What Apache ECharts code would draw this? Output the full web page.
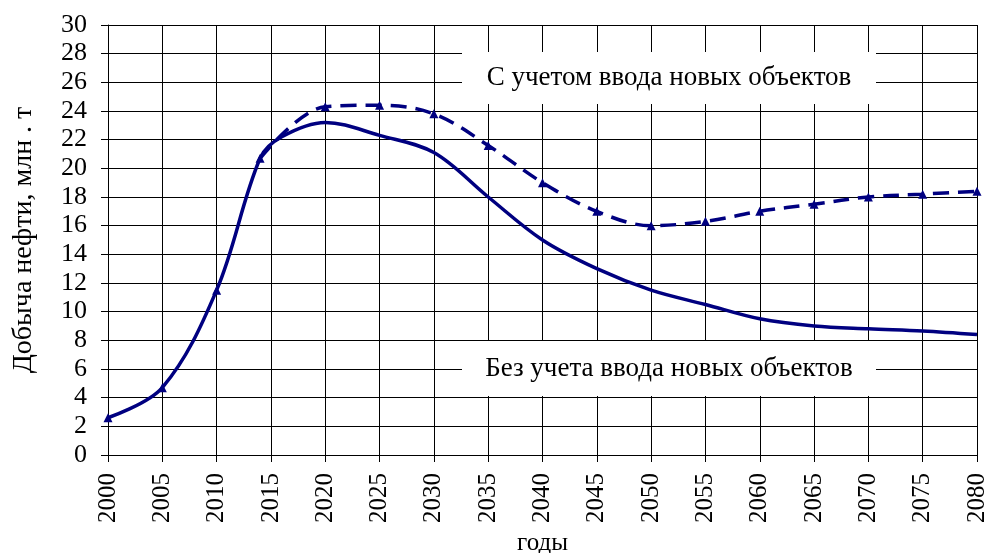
<!DOCTYPE html>
<html>
<head>
<meta charset="utf-8">
<script src="https://cdn.jsdelivr.net/npm/echarts@6/dist/echarts.min.js"></script>
<style>
  html, body { margin: 0; padding: 0; background: #fff; }
  #chart { width: 984px; height: 553px; }
</style>
</head>
<body>
<div id="chart"></div>
<script>
// годы и добыча (млн т)
const yearsNew = [2014, 2020, 2025, 2030, 2035, 2040, 2045, 2050, 2055, 2060, 2065, 2070, 2075, 2080];
const withNew = [20.7, 24.3, 24.4, 23.8, 21.6, 19.0, 17.0, 16.0, 16.3, 17.0, 17.5, 18.0, 18.2, 18.4];

const yearsBase = [2000, 2005, 2010, 2014, 2016, 2020, 2025, 2030, 2035, 2040, 2045, 2050, 2055, 2060, 2065, 2070, 2075, 2080];
const withoutNew = [2.6, 4.7, 11.5, 20.7, 22.2, 23.2, 22.3, 21.1, 18.0, 15.0, 13.0, 11.5, 10.5, 9.5, 9.0, 8.8, 8.65, 8.4];
// общие точки (до ввода новых объектов), отмеченные треугольниками
const markedYears = [2000, 2005, 2010];

const labelNew = 'С учетом ввода новых объектов';
const labelBase = 'Без учета ввода новых объектов';

const font = 'Liberation Serif';
const navy = '#000080';

function pairs(xs, ys) {
  return xs.map((x, i) => [x, ys[i]]);
}

function labelBox(x, y, w, h, text) {
  return {
    type: 'group',
    children: [
      { type: 'rect', z: 5, shape: { x: x, y: y, width: w, height: h }, style: { fill: '#fff' } },
      {
        type: 'text',
        z: 6,
        x: x + w / 2,
        y: y + h / 2,
        style: {
          text: text,
          fill: '#000',
          font: '27px "' + font + '"',
          align: 'center',
          verticalAlign: 'middle'
        }
      }
    ]
  };
}

const baseData = yearsBase.map((x, i) => ({
  value: [x, withoutNew[i]],
  symbol: markedYears.includes(x) ? 'triangle' : 'none'
}));

let chart = echarts.init(document.getElementById('chart'));
let option = {
  animation: false,
  grid: { left: 108, right: 7, top: 25, bottom: 98, containLabel: false, outerBoundsMode: 'none' },
  xAxis: {
    type: 'value',
    min: 2000,
    max: 2080,
    interval: 5,
    name: 'годы',
    nameLocation: 'middle',
    nameGap: 70,
    nameTextStyle: { fontFamily: font, fontSize: 25, color: '#000' },
    axisLine: { lineStyle: { color: '#000', width: 1 } },
    axisTick: { show: true, length: 7, lineStyle: { color: '#000' } },
    axisLabel: {
      rotate: 90,
      margin: 18,
      fontFamily: font,
      fontSize: 25,
      color: '#000',
      formatter: v => String(v)
    },
    splitLine: { show: true, lineStyle: { color: '#000', width: 1 } }
  },
  yAxis: {
    type: 'value',
    min: 0,
    max: 30,
    interval: 2,
    name: 'Добыча нефти, млн . т',
    nameLocation: 'middle',
    nameGap: 70,
    nameTextStyle: { fontFamily: font, fontSize: 28, color: '#000' },
    axisLine: { show: true, lineStyle: { color: '#000', width: 1 } },
    axisTick: { show: true, length: 7, lineStyle: { color: '#000' } },
    axisLabel: { margin: 21, fontFamily: font, fontSize: 26, color: '#000' },
    splitLine: { show: true, lineStyle: { color: '#000', width: 1 } }
  },
  graphic: [
    labelBox(462, 52, 414, 52, labelNew),
    labelBox(462, 341, 414, 55, labelBase)
  ],
  series: [
    {
      name: labelBase,
      type: 'line',
      smooth: 0.35,
      data: baseData,
      symbolSize: 9,
      lineStyle: { color: navy, width: 3.5 },
      itemStyle: { color: navy },
      z: 3
    },
    {
      name: labelNew,
      type: 'line',
      smooth: 0.35,
      data: pairs(yearsNew, withNew),
      symbol: 'triangle',
      symbolSize: 9,
      lineStyle: { color: navy, width: 3.5, type: [16, 9] },
      itemStyle: { color: navy },
      z: 4
    }
  ]
};
chart.setOption(option);
</script>
</body>
</html>
